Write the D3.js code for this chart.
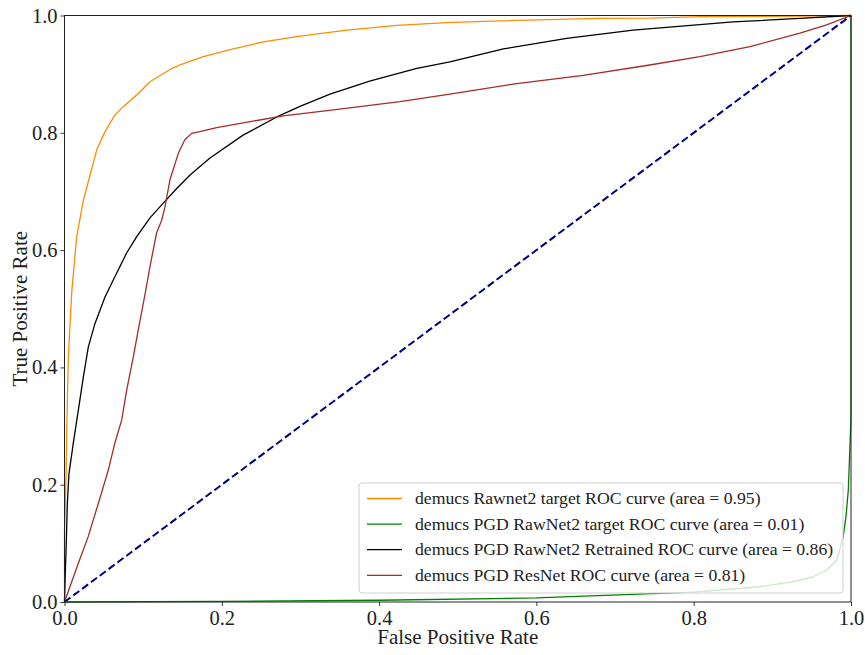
<!DOCTYPE html>
<html>
<head>
<meta charset="utf-8">
<script src="https://cdn.jsdelivr.net/npm/d3@7"></script>
<style>
  html, body { margin: 0; padding: 0; background: #fff; }
  svg text { font-family: "Liberation Serif", "DejaVu Serif", serif; fill: #222; }
</style>
</head>
<body>
<svg id="chart" width="865" height="655"></svg>
<script>
// ROC curves: false positive rate / true positive rate pairs per model
const rawnetFpr = [0, 0, 0.002, 0.003, 0.0049, 0.0092, 0.0155, 0.024, 0.041, 0.0515, 0.064, 0.075, 0.0938, 0.1087, 0.134, 0.147, 0.1765, 0.2104, 0.2528, 0.295, 0.359, 0.4224, 0.486, 0.553, 0.681, 0.744, 0.808, 0.935, 1];
const rawnetTpr = [0, 0.12, 0.214, 0.305, 0.418, 0.528, 0.623, 0.685, 0.771, 0.802, 0.830, 0.845, 0.867, 0.887, 0.908, 0.916, 0.930, 0.942, 0.955, 0.964, 0.975, 0.983, 0.988, 0.991, 0.995, 0.9955, 0.998, 0.999, 1];

const pgdRawnetFpr = [0, 0.2, 0.4, 0.6, 0.8, 0.884, 0.9266, 0.952, 0.969, 0.982, 0.990, 0.9936, 0.9966, 0.998, 1, 1];
const pgdRawnetTpr = [0, 0.001, 0.003, 0.007, 0.017, 0.026, 0.0347, 0.043, 0.0546, 0.0716, 0.111, 0.145, 0.191, 0.242, 0.316, 1];

const retrainedFpr = [0, 0.001, 0.002, 0.0036, 0.0057, 0.0112, 0.0176, 0.024, 0.0303, 0.0388, 0.0515, 0.062, 0.079, 0.0918, 0.1087, 0.1256, 0.1427, 0.1596, 0.185, 0.227, 0.270, 0.2994, 0.3376, 0.388, 0.448, 0.490, 0.558, 0.6385, 0.723, 0.850, 0.935, 1];
const retrainedTpr = [0, 0.05, 0.089, 0.168, 0.219, 0.271, 0.327, 0.384, 0.435, 0.475, 0.520, 0.549, 0.595, 0.623, 0.655, 0.680, 0.705, 0.728, 0.757, 0.796, 0.827, 0.845, 0.866, 0.888, 0.910, 0.921, 0.943, 0.961, 0.975, 0.989, 0.995, 1];

const resnetFpr = [0, 0.0176, 0.030, 0.043, 0.0557, 0.064, 0.0727, 0.079, 0.0875, 0.0938, 0.1024, 0.1087, 0.117, 0.1236, 0.1278, 0.134, 0.1447, 0.153, 0.1617, 0.172, 0.1935, 0.236, 0.278, 0.342, 0.4266, 0.490, 0.575, 0.6596, 0.744, 0.808, 0.8716, 0.935, 0.969, 1];
const resnetTpr = [0, 0.066, 0.111, 0.168, 0.225, 0.271, 0.310, 0.361, 0.418, 0.464, 0.525, 0.572, 0.629, 0.651, 0.674, 0.7195, 0.765, 0.788, 0.799, 0.802, 0.809, 0.819, 0.829, 0.839, 0.853, 0.866, 0.884, 0.898, 0.9156, 0.930, 0.947, 0.970, 0.984, 1];

const seriesLabels = [
  "demucs Rawnet2 target ROC curve (area = 0.95)",
  "demucs PGD RawNet2 target ROC curve (area = 0.01)",
  "demucs PGD RawNet2 Retrained ROC curve (area = 0.86)",
  "demucs PGD ResNet ROC curve (area = 0.81)"
];
const seriesColors = ["#ff8c00", "#008000", "#000000", "#a52a2a"];
const tickValues = [0.0, 0.2, 0.4, 0.6, 0.8, 1.0];

const series = [
  { fpr: rawnetFpr, tpr: rawnetTpr },
  { fpr: pgdRawnetFpr, tpr: pgdRawnetTpr },
  { fpr: retrainedFpr, tpr: retrainedTpr },
  { fpr: resnetFpr, tpr: resnetTpr }
].map((s, i) => ({
  label: seriesLabels[i],
  color: seriesColors[i],
  points: s.fpr.map((f, j) => [f, s.tpr[j]])
}));

const margin = { left: 64.5, right: 14, top: 15.5, bottom: 53 };
const width = 865, height = 655;
const svg = d3.select("#chart");

const x = d3.scaleLinear().domain([0, 1]).range([margin.left, width - margin.right]);
const y = d3.scaleLinear().domain([0, 1]).range([height - margin.bottom, margin.top]);

const fmt = d3.format(".1f");

// axes
const xAxis = svg.append("g")
  .attr("transform", `translate(0,${y(0)})`)
  .call(d3.axisBottom(x).tickValues(tickValues).tickFormat(fmt).tickSizeInner(4).tickSizeOuter(0).tickPadding(4));
const yAxis = svg.append("g")
  .attr("transform", `translate(${x(0)},0)`)
  .call(d3.axisLeft(y).tickValues(tickValues).tickFormat(fmt).tickSizeInner(4).tickSizeOuter(0).tickPadding(3));
[xAxis, yAxis].forEach(g => {
  g.select(".domain").remove();
  g.selectAll(".tick line").attr("stroke", "#222").attr("stroke-width", 0.9);
  g.selectAll(".tick text").attr("font-size", 20.5).attr("fill", "#222")
    .style("font-family", '"Liberation Serif", serif');
});

// curves
const line = d3.line().x(d => x(d[0])).y(d => y(d[1]));
const plot = svg.append("g");
series.forEach(s => {
  plot.append("path")
    .attr("d", line(s.points))
    .attr("fill", "none")
    .attr("stroke", s.color)
    .attr("stroke-width", 1.3)
    .attr("stroke-linejoin", "round");
});

// chance diagonal
plot.append("path")
  .attr("d", line([[0, 0], [1, 1]]))
  .attr("fill", "none")
  .attr("stroke", "#000080")
  .attr("stroke-width", 2)
  .attr("stroke-dasharray", "7.5,3.5");

// frame
svg.append("rect")
  .attr("x", x(0)).attr("y", y(1))
  .attr("width", x(1) - x(0)).attr("height", y(0) - y(1))
  .attr("fill", "none").attr("stroke", "#222").attr("stroke-width", 1);

// axis titles
svg.append("text")
  .attr("x", (x(0) + x(1)) / 2).attr("y", 644)
  .attr("text-anchor", "middle").attr("font-size", 21)
  .text("False Positive Rate");
svg.append("text")
  .attr("transform", `translate(27,${(y(0) + y(1)) / 2}) rotate(-90)`)
  .attr("text-anchor", "middle").attr("font-size", 21)
  .text("True Positive Rate");

// legend
const legend = svg.append("g");
const lx = 359, ly = 483, lw = 484, lh = 110, rowH = 25.6;
legend.append("rect")
  .attr("x", lx).attr("y", ly).attr("width", lw).attr("height", lh)
  .attr("rx", 3).attr("fill", "#fff").attr("fill-opacity", 0.8)
  .attr("stroke", "#d0d0d0").attr("stroke-width", 1);
series.forEach((s, i) => {
  const ry = ly + 15.5 + i * rowH;
  legend.append("line")
    .attr("x1", lx + 8).attr("x2", lx + 43).attr("y1", ry).attr("y2", ry)
    .attr("stroke", s.color).attr("stroke-width", 1.3);
  legend.append("text")
    .attr("x", lx + 56).attr("y", ry)
    .attr("dy", "0.32em").attr("font-size", 17.7)
    .text(s.label);
});
</script>
</body>
</html>
